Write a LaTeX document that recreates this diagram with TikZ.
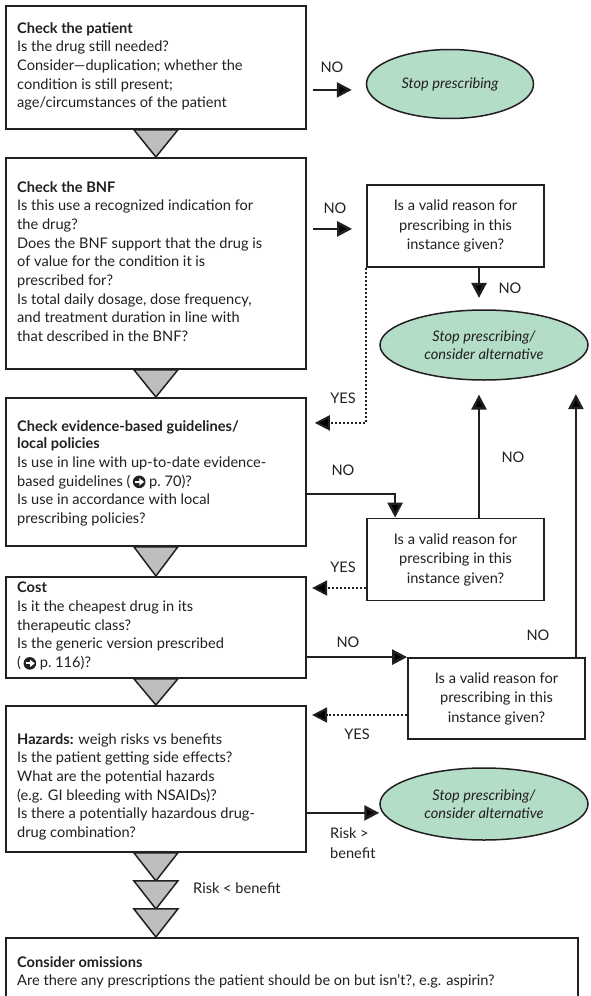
\documentclass[tikz,border=0pt]{standalone}
\usepackage{fontspec}
\setmainfont{Lato}
\usetikzlibrary{arrows.meta,calc,shapes.geometric}
\definecolor{ink}{HTML}{231F20}
\definecolor{stopfill}{HTML}{B3DDC7}
\definecolor{chevron}{HTML}{BEBEBE}
% cross-reference mark: black disc with a white arrow
\newcommand\seeref{\tikz[baseline=0pt,x=1pt,y=1pt]{%
  \fill[ink] (0,4.3) circle (6.3);
  \draw[white, line width=1.9pt, -{Triangle[length=4.6pt,width=7pt]}] (-4.3,4.3) -- (4.9,4.3);}}
\tikzset{
  frame/.style={draw=ink, line width=1.8pt, anchor=north west, inner sep=0pt},
  body/.style={anchor=north west, inner sep=0pt, align=left, text=ink,
    font=\fontsize{14.6}{18.7}\selectfont},
  query/.style={draw=ink, line width=1.8pt, minimum width=177pt, minimum height=82pt,
    align=center, text=ink, inner sep=0pt, font=\fontsize{14.6}{19.5}\selectfont},
  stop/.style={ellipse, draw=ink, line width=1.5pt, fill=stopfill, text=ink,
    inner sep=0pt, align=center, font=\fontsize{14.6}{18.5}\selectfont\itshape},
  flow/.style={draw=ink, line width=2.6pt, -{Triangle[length=15pt,width=15pt]}},
  back/.style={draw=ink, line width=2pt, dash pattern=on 2pt off 2pt,
    -{Triangle[length=15pt,width=15pt]}},
  tag/.style={text=ink, inner sep=0pt, align=left, font=\fontsize{14.6}{20}\selectfont},
  chev/.style={draw=ink, line width=1.5pt, fill=chevron, line join=miter},
}
\begin{document}
\begin{tikzpicture}[x=1pt,y=-1pt]
\clip (0,0) rectangle (590,996);
\fill[white] (0,0) rectangle (590,996);

% main checklist boxes
\node[frame, minimum width=300pt, minimum height=123pt] (b1) at (5,5) {};
\node[frame, minimum width=300pt, minimum height=211pt] (b2) at (5,157) {};
\node[frame, minimum width=300pt, minimum height=148pt] (b3) at (5,397) {};
\node[frame, minimum width=300pt, minimum height=101pt] (b4) at (5,576) {};
\node[frame, minimum width=300pt, minimum height=146pt] (b5) at (5,705) {};
\node[frame, minimum width=572pt, minimum height=80pt]  (b6) at (5,937) {};

\node[body] (t1) at ([shift={(12,17)}]b1.north west)
  {\textbf{Check the patient}\\
   Is the drug still needed?\\
   Consider---duplication; whether the\\
   condition is still present;\\
   age/circumstances of the patient};
\node[body] (t2) at ([shift={(12,24)}]b2.north west)
  {\textbf{Check the BNF}\\
   Is this use a recognized indication for\\
   the drug?\\
   Does the BNF support that the drug is\\
   of value for the condition it is\\
   prescribed for?\\
   Is total daily dosage, dose frequency,\\
   and treatment duration in line with\\
   that described in the BNF?};
\node[body] (t3) at ([shift={(12,23)}]b3.north west)
  {\textbf{Check evidence-based guidelines/}\\[-1pt]
   \textbf{local policies}\\
   Is use in line with up-to-date evidence-\\
   based guidelines (\,\seeref\ p.~70)?\\
   Is use in accordance with local\\
   prescribing policies?};
\node[body] (t4) at ([shift={(12,6)}]b4.north west)
  {\textbf{Cost}\\
   Is it the cheapest drug in its\\
   therapeutic class?\\
   Is the generic version prescribed\\
   (\,\seeref\ p.~116)?};
\node[body] (t5) at ([shift={(12,28)}]b5.north west)
  {\textbf{Hazards:} weigh risks vs benefits\\
   Is the patient getting side effects?\\
   What are the potential hazards\\
   (e.g. GI bleeding with NSAIDs)?\\
   Is there a potentially hazardous drug-\\
   drug combination?};
\node[body] (t6) at ([shift={(12,19)}]b6.north west)
  {\textbf{Consider omissions}\\
   Are there any prescriptions the patient should be on but isn't?, e.g. aspirin?};

% down chevrons between the checks
\draw[chev] ([xshift=-22pt]b1.south) -- ([xshift=22pt]b1.south) -- (b2.north) -- cycle;
\draw[chev] ([xshift=-22pt]b2.south) -- ([xshift=22pt]b2.south) -- (b3.north) -- cycle;
\draw[chev] ([xshift=-22pt]b3.south) -- ([xshift=22pt]b3.south) -- (b4.north) -- cycle;
\draw[chev] ([xshift=-22pt]b4.south) -- ([xshift=22pt]b4.south) -- (b5.north) -- cycle;
\coordinate (k0) at (b5.south);
\coordinate (k3) at (b5.south |- b6.north);
\coordinate (k1) at ($(k0)!1/3!(k3)$);
\coordinate (k2) at ($(k0)!2/3!(k3)$);
\draw[chev] ([xshift=-22pt]k0) -- ([xshift=22pt]k0) -- (k1) -- cycle;
\draw[chev] ([xshift=-22pt]k1) -- ([xshift=22pt]k1) -- (k2) -- cycle;
\draw[chev] ([xshift=-22pt]k2) -- ([xshift=22pt]k2) -- (k3) -- cycle;

% outcomes and follow-up questions
\node[stop, minimum width=167pt, minimum height=69pt] (e1) at (450,84) {Stop prescribing};
\node[stop, minimum width=208pt, minimum height=70pt] (e2) at (484,345)
  {Stop prescribing/\\consider alternative};
\node[stop, minimum width=208pt, minimum height=72pt] (e3) at (484,804)
  {Stop prescribing/\\consider alternative};
\node[query] (v1) at (455.5,226) {Is a valid reason for\\prescribing in this\\instance given?};
\node[query] (v2) at (455.5,559.5) {Is a valid reason for\\prescribing in this\\instance given?};
\node[query, minimum height=81pt] (v3) at (496.5,698.5) {Is a valid reason for\\prescribing in this\\instance given?};

% connectors
\coordinate (n1) at ([shift={(6,22.5)}]b1.east);
\draw[flow] (n1) -- ($(n1 -| e1.west)+(-14,0)$);
\coordinate (n2) at ([shift={(6,-34.5)}]b2.east);
\draw[flow] (n2) -- ($(n2 -| v1.west)+(-14,0)$);
\draw[flow] ([xshift=23.5pt]v1.south) -- ++(0,30);
\draw[back] (v1.south west) |- ($(b3.east)+(8,-49)$);
\draw[flow] ($(b3.east)+(0,22)$) -| ($(v2.north west)+(29,0)$);
\draw[flow] ([xshift=23.5pt]v2.north) -- ++(0,-123);
\draw[back] ($(v2.west)+(0,28.5)$) -- ($(v2.west)+(-54,28.5)$);
\draw[flow] (b4.east |- v3.north) -- (v3.north west);
\draw[flow] ([xshift=-10pt]v3.north east) -- ++(0,-263);
\draw[back] ($(v3.west)+(0,16.5)$) -- ++(-95,0);
\coordinate (n8) at ($(b5.east)+(0,34)$);
\draw[flow] (n8) -- (n8 -| e3.west);

% connector labels
\node[tag] (l1) at (332,67) {NO};
\node[tag] (l2) at (335,208) {NO};
\node[tag] (l3) at (510,288) {NO};
\node[tag] (l4) at (343,398) {YES};
\node[tag] (l5) at (343,470) {NO};
\node[tag] (l6) at (513,457) {NO};
\node[tag] (l7) at (343,567) {YES};
\node[tag] (l8) at (348,642) {NO};
\node[tag] (l9) at (538,635) {NO};
\node[tag] (l10) at (357,734) {YES};
\node[tag, anchor=west] (l11) at (330,843) {Risk >\\benefit};
\node[tag, anchor=west] (l12) at (193,888) {Risk < benefit};
\end{tikzpicture}
\end{document}
